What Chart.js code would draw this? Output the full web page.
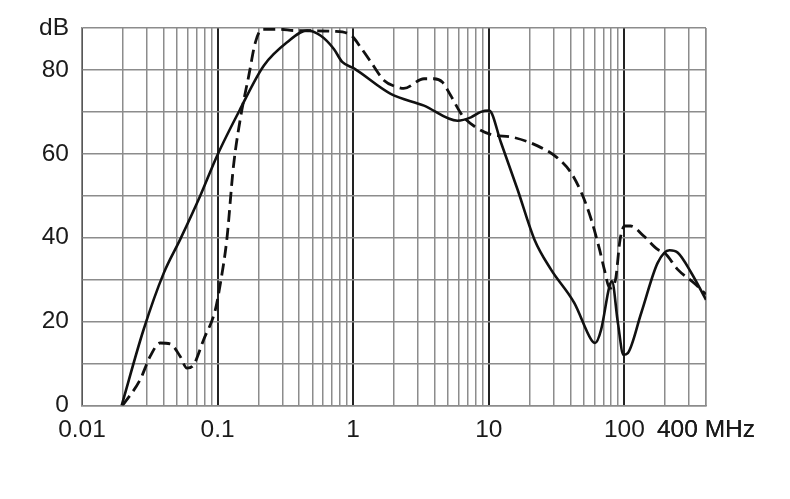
<!DOCTYPE html>
<html lang="en">
	<head>
		<meta charset="UTF-8"/>
		<title>Attenuation vs frequency</title>
		<script src="https://cdn.jsdelivr.net/npm/chart.js@4/dist/chart.umd.min.js"></script>
		<style>
			html, body { margin: 0; padding: 0; background: #fff; }
			#wrap { width: 790px; height: 499px; }
		</style>
	</head>
	<body>
		<div id="wrap"><canvas id="chart" width="790" height="499"></canvas></div>
		<script>

			// solid curve (MHz / dB)
			const solidFreq = [0.0196, 0.0284, 0.04, 0.053, 0.0745, 0.099, 0.147, 0.219, 0.326, 0.458, 0.574, 0.72, 0.83, 1.02, 1.89, 3.33, 5.88, 7.38, 8.75, 10.07, 12.3, 16.3, 21.7, 28.8, 42.8, 56.9, 60.8, 67.4, 77.6, 81, 89.6, 98.4, 106, 133, 176, 215, 248, 312, 400];
			const solidDb   = [0, 18, 31.5, 39.6, 50, 59.5, 70.7, 81, 86.6, 89.4, 88.2, 85, 81.9, 80.3, 74.3, 71.5, 67.9, 68.7, 70, 70.3, 62.7, 51.5, 39.6, 32.4, 24.4, 15.7, 14.9, 18.1, 28.4, 29.6, 19.7, 12.1, 12.5, 22, 34, 37, 36.4, 31.6, 25.2];

			// dashed curve (MHz / dB)
			const dashFreq = [0.0199, 0.0268, 0.0318, 0.0377, 0.0447, 0.053, 0.0594, 0.0666, 0.0789, 0.0962, 0.105, 0.117, 0.131, 0.147, 0.17, 0.19, 0.213, 0.29, 0.363, 0.72, 0.97, 1.135, 1.35, 1.69, 2.12, 2.36, 3.33, 3.94, 4.54, 5.24, 6.4, 8.05, 10.2, 15.3, 22.9, 31.9, 40.4, 49.3, 56.9, 65.6, 71.2, 78, 86, 93, 101, 111, 139, 176, 198, 248, 326, 400];
			const dashDb   = [0, 6.1, 11.7, 14.9, 14.7, 11.7, 8.9, 9.7, 15.7, 22.8, 29.2, 39.6, 57.1, 68.3, 78.7, 86.6, 89.7, 89.7, 89.4, 89.2, 88.2, 85.4, 81.9, 77.5, 75.9, 75.6, 77.9, 77.9, 77.1, 73.9, 69.1, 66.3, 64.7, 63.9, 61.9, 59.1, 55.5, 50, 44.4, 37.2, 32.4, 28, 30, 39.6, 42.8, 42.8, 40.4, 37.2, 36.4, 32.4, 29.2, 26.5];

			// x tick labels
			const xTickValues = [0.01, 0.1, 1, 10, 100, 400];
			const xTickLabels = ['0.01', '0.1', '1', '10', '100', '400 MHz'];

			const near = (a, b) => Math.abs(a - b) / b < 1e-6;
			const isDecade = v => [0.01, 0.1, 1, 10, 100].some(d => near(v, d));

			const solidPts = solidFreq.map((f, i) => ({x: f, y: solidDb[i]}));
			const dashPts = dashFreq.map((f, i) => ({x: f, y: dashDb[i]}));

			const ctx = document.getElementById('chart').getContext('2d');
			new Chart(ctx, {
				type: 'line',
				data: {
					datasets: [{
						data: solidPts,
						borderColor: '#111',
						borderWidth: 2.6,
						pointRadius: 0,
						cubicInterpolationMode: 'monotone',
						fill: false
					}, {
						data: dashPts,
						borderColor: '#111',
						borderWidth: 2.8,
						borderDash: [12, 6],
						pointRadius: 0,
						cubicInterpolationMode: 'monotone',
						fill: false
					}]
				},
				options: {
					responsive: false,
					animation: false,
					layout: { padding: { left: 0, right: 84, top: 28, bottom: 0 } },
					plugins: { legend: { display: false }, tooltip: { enabled: false } },
					scales: {
						x: {
							type: 'logarithmic',
							min: 0.01,
							max: 400,
							afterBuildTicks: axis => {
								const t = [];
								[0.01, 0.1, 1, 10, 100].forEach(d => {
									for (let m = 1; m <= 9; m++) {
										const v = +(d * m).toPrecision(6);
										if (v <= 400) t.push({value: v});
									}
								});
								t.push({value: 400});
								axis.ticks = t;
							},
							afterFit: axis => { axis.height = 93.5; },
							border: { color: '#8c8c8c', width: 1.5 },
							grid: {
								drawTicks: false,
								color: c => (c.tick && isDecade(c.tick.value)) ? '#222' : '#8c8c8c',
								lineWidth: c => (c.tick && isDecade(c.tick.value)) ? 2 : 1.5
							},
							ticks: {
								autoSkip: false,
								maxRotation: 0,
								padding: 10,
								color: '#1a1a1a',
								font: { family: 'Liberation Sans, Arial, sans-serif', size: 24.5 },
								callback: v => {
									const i = xTickValues.findIndex(k => near(v, k));
									return i >= 0 ? xTickLabels[i] : '';
								}
							}
						},
						y: {
							min: 0,
							max: 90,
							afterFit: axis => { axis.width = 82; },
							border: { color: '#8c8c8c', width: 1.5 },
							grid: { drawTicks: false, color: '#8c8c8c', lineWidth: 1.5 },
							ticks: {
								stepSize: 10,
								padding: 13,
								color: '#1a1a1a',
								font: { family: 'Liberation Sans, Arial, sans-serif', size: 24.5 },
								callback: v => v === 90 ? 'dB' : (v % 20 === 0 ? String(v) : '')
							}
						}
					}
				}
			});
		</script>
	</body>
</html>
